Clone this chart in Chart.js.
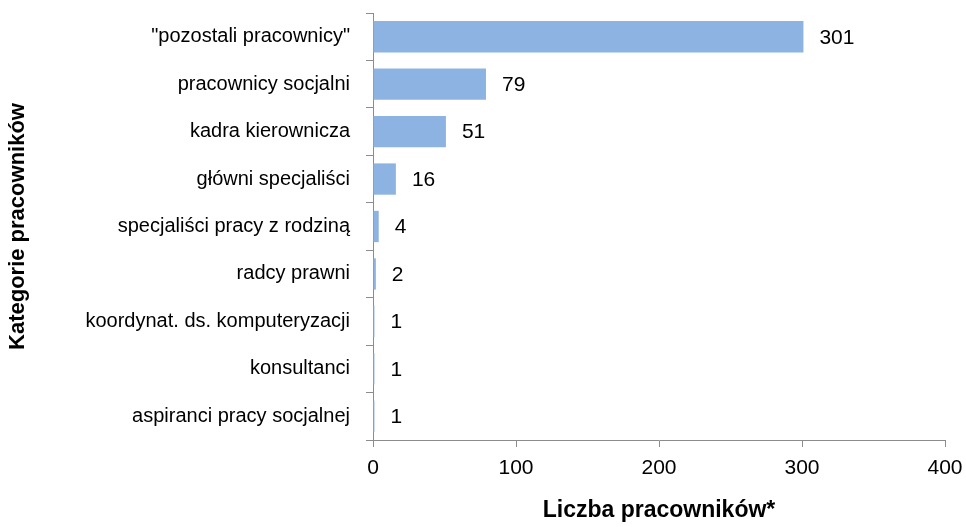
<!DOCTYPE html>
<html>
<head>
<meta charset="utf-8">
<script src="https://cdn.jsdelivr.net/npm/chart.js@4"></script>
<style>
  html, body { margin: 0; padding: 0; background: #fff; }
  #wrap { width: 966px; height: 527px; }
</style>
</head>
<body>
<div id="wrap"><canvas id="barChart"></canvas></div>
<script>
var categories = ['"pozostali pracownicy"', 'pracownicy socjalni', 'kadra kierownicza', 'główni specjaliści',
    'specjaliści pracy z rodziną', 'radcy prawni', 'koordynat. ds. komputeryzacji', 'konsultanci', 'aspiranci pracy socjalnej'];
var counts = [301, 79, 51, 16, 4, 2, 1, 1, 1];
var xTicks = [0, 100, 200, 300, 400];

var font = '"Liberation Sans", Arial, sans-serif';

// value labels to the right of each bar
var valueLabels = {
    id: 'valueLabels',
    afterDatasetsDraw: function (chart) {
        var ctx = chart.ctx;
        var meta = chart.getDatasetMeta(0);
        ctx.save();
        ctx.font = '21px ' + font;
        ctx.fillStyle = '#000';
        ctx.textBaseline = 'middle';
        ctx.textAlign = 'left';
        meta.data.forEach(function (bar, i) {
            ctx.fillText(String(counts[i]), bar.x + 16, bar.y + 1);
        });
        ctx.restore();
    }
};

var ctxB = document.getElementById('barChart').getContext('2d');
var myBarChart = new Chart(ctxB, {
    type: 'bar',
    data: {
        labels: categories,
        datasets: [{
            data: counts,
            backgroundColor: '#8db3e2',
            borderWidth: 0,
            barPercentage: 1,
            categoryPercentage: 0.66
        }]
    },
    plugins: [valueLabels],
    options: {
        indexAxis: 'y',
        responsive: true,
        maintainAspectRatio: false,
        animation: false,
        layout: { padding: { top: 13, right: 21, left: 0, bottom: 0 } },
        plugins: {
            legend: { display: false },
            tooltip: { enabled: false }
        },
        scales: {
            x: {
                min: 0,
                max: 400,
                afterBuildTicks: function (s) {
                    s.ticks = xTicks.map(function (v) { return { value: v }; });
                },
                afterFit: function (s) {
                    s.height = 87;
                    s.paddingLeft = 0;
                    s.paddingRight = 0;
                },
                border: { color: '#8c8c8c', width: 1 },
                grid: { drawOnChartArea: false, tickLength: 7, color: '#8c8c8c' },
                ticks: { color: '#000', font: { family: font, size: 21 }, padding: 9 },
                title: {
                    display: true,
                    text: 'Liczba pracowników*',
                    color: '#000',
                    font: { family: font, size: 23, weight: 'bold' },
                    padding: { top: 0, bottom: 3 }
                }
            },
            y: {
                afterFit: function (s) {
                    s.width = 373;
                    s.paddingTop = 0;
                    s.paddingBottom = 0;
                },
                border: { color: '#8c8c8c', width: 1 },
                grid: { drawOnChartArea: false, tickLength: 7, color: '#8c8c8c', offset: true },
                ticks: { color: '#000', font: { family: font, size: 20 }, padding: 16 },
                title: {
                    display: true,
                    text: 'Kategorie pracowników',
                    color: '#000',
                    font: { family: font, size: 22, weight: 'bold' },
                    padding: { top: 5, bottom: 0 }
                }
            }
        }
    }
});
</script>
</body>
</html>
